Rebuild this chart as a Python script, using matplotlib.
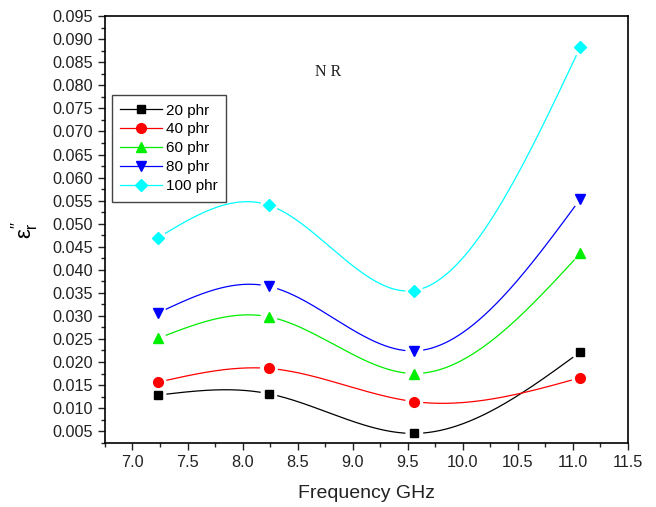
import numpy as np
import matplotlib
matplotlib.use("Agg")
import matplotlib.pyplot as plt

plt.rcParams["font.family"] = ["Liberation Sans", "DejaVu Sans"]
plt.rcParams["mathtext.fontset"] = "custom"
plt.rcParams["mathtext.rm"] = "Liberation Sans"
plt.rcParams["mathtext.it"] = "Liberation Sans"

freq = [7.23, 8.24, 9.56, 11.07]
labels = ["20 phr", "40 phr", "60 phr", "80 phr", "100 phr"]
eps_20 = [0.0128, 0.0131, 0.0045, 0.0222]
eps_40 = [0.0156, 0.0186, 0.0114, 0.0166]
eps_60 = [0.0251, 0.0298, 0.0175, 0.0436]
eps_80 = [0.0306, 0.0364, 0.0224, 0.0554]
eps_100 = [0.0469, 0.0540, 0.0355, 0.0884]

series = [eps_20, eps_40, eps_60, eps_80, eps_100]
colors = ["black", "red", "#00ee00", "blue", "cyan"]
markers = ["s", "o", "^", "v", "D"]
msizes = [6, 7, 7, 7, 6]


def natural_spline(x, y, xs):
    x = np.asarray(x, float)
    y = np.asarray(y, float)
    n = len(x)
    h = np.diff(x)
    A = np.zeros((n, n))
    b = np.zeros(n)
    A[0, 0] = A[-1, -1] = 1
    for i in range(1, n - 1):
        A[i, i - 1] = h[i - 1]
        A[i, i] = 2 * (h[i - 1] + h[i])
        A[i, i + 1] = h[i]
        b[i] = 3 * ((y[i + 1] - y[i]) / h[i] - (y[i] - y[i - 1]) / h[i - 1])
    c = np.linalg.solve(A, b)
    out = np.empty_like(xs)
    for k, xv in enumerate(xs):
        i = min(np.searchsorted(x, xv, side="right") - 1, n - 2)
        i = max(i, 0)
        dx = xv - x[i]
        bi = (y[i + 1] - y[i]) / h[i] - h[i] * (2 * c[i] + c[i + 1]) / 3
        di = (c[i + 1] - c[i]) / (3 * h[i])
        out[k] = y[i] + bi * dx + c[i] * dx ** 2 + di * dx ** 3
    return out


fig = plt.figure(figsize=(6.56, 5.07), dpi=100)
ax = fig.add_axes([0.160, 0.126, 0.797, 0.842])
ax.set_xlim(6.78, 11.5)
ax.set_ylim(0.0024, 0.095)

xs = np.linspace(freq[0], freq[-1], 600)
gap_px = 9
for vals, col, mk, ms, lab in zip(series, colors, markers, msizes, labels):
    ys = natural_spline(freq, vals, xs)
    pts = ax.transData.transform(np.column_stack([xs, ys]))
    mpts = ax.transData.transform(np.column_stack([freq, vals]))
    mask = np.zeros(len(xs), bool)
    for p in mpts:
        mask |= np.hypot(pts[:, 0] - p[0], pts[:, 1] - p[1]) < gap_px
    yplot = ys.copy()
    yplot[mask] = np.nan
    ax.plot(xs, yplot, color=col, lw=0.9)
    ax.plot(freq, vals, linestyle="none", marker=mk, color=col, ms=ms)
    ax.plot([], [], color=col, lw=0.9, marker=mk, ms=ms, label=lab)

ax.set_xticks(np.arange(7.0, 11.51, 0.5))
ax.set_xticks(np.arange(6.75, 11.51, 0.25), minor=True)
ax.set_yticks(np.arange(0.005, 0.0951, 0.005))
ax.set_yticks(np.arange(0.0025, 0.0951, 0.0025), minor=True)
ax.xaxis.set_major_formatter(plt.FuncFormatter(lambda v, p: f"{v:.1f}"))
ax.yaxis.set_major_formatter(plt.FuncFormatter(lambda v, p: f"{v:.3f}"))
ax.tick_params(which="both", direction="out", top=False, right=False,
               labelsize=11.7, colors="#222222")
ax.tick_params(which="major", length=5, width=1)
ax.tick_params(which="minor", length=3, width=1)
for s in ax.spines.values():
    s.set_linewidth(1.2)

ax.set_xlabel("Frequency GHz", fontsize=14, labelpad=11, color="#222222")
ax.set_ylabel(r"$\varepsilon_r^{\prime\prime}$", fontsize=16, labelpad=8)

ax.text(0.426, 0.869, "N R", transform=ax.transAxes, fontsize=11.5,
        family=["Liberation Serif"], ha="center", va="center", color="#222222")

leg = ax.legend(loc="upper left", bbox_to_anchor=(0.0134, 0.815), fontsize=11,
                fancybox=False, edgecolor="#444444", framealpha=1,
                handlelength=2.7, borderpad=0.55, labelspacing=0.32,
                handletextpad=0.3, borderaxespad=0)
leg.get_frame().set_linewidth(1.0)

fig.savefig("out.png", dpi=100)
